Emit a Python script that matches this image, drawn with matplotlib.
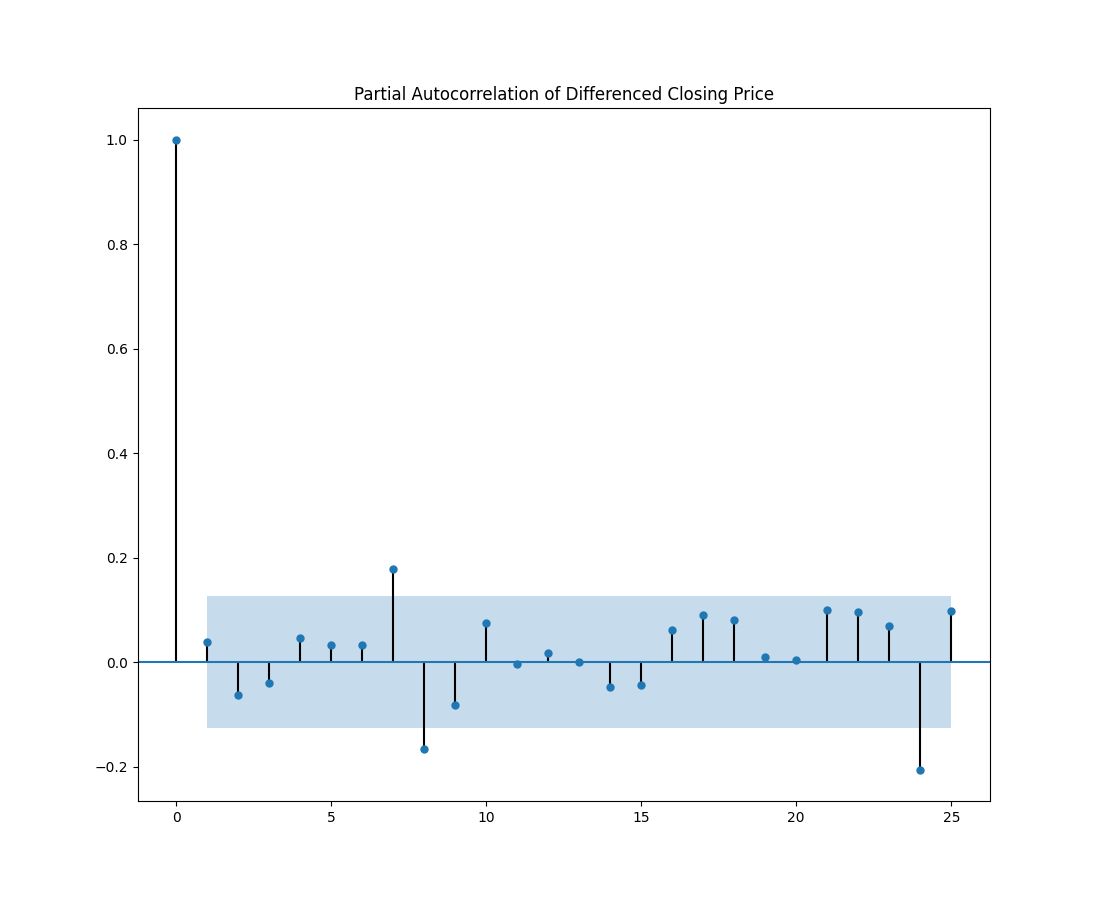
import numpy as np
import matplotlib
matplotlib.use('Agg')
import matplotlib.pyplot as plt

lags = np.arange(26)
pacf_vals = [1.0, 0.038, -0.063, -0.040, 0.046, 0.033, 0.034, 0.178, -0.166, -0.082,
             0.076, -0.004, 0.017, 0.001, -0.048, -0.044, 0.061, 0.090, 0.080, 0.011,
             0.004, 0.101, 0.096, 0.069, -0.205, 0.099]
conf_band = 0.126

fig, ax = plt.subplots(figsize=(11, 9), dpi=100)
ax.vlines(lags, 0, pacf_vals, colors='black')
ax.plot(lags, pacf_vals, 'o', markersize=5, color='C0')
ax.axhline(0, color='C0')
ax.fill_between(lags[1:], -conf_band, conf_band, alpha=0.25, linewidth=0)
ax.margins(x=0.05)
ax.set_title('Partial Autocorrelation of Differenced Closing Price')
fig.savefig('out.png')
